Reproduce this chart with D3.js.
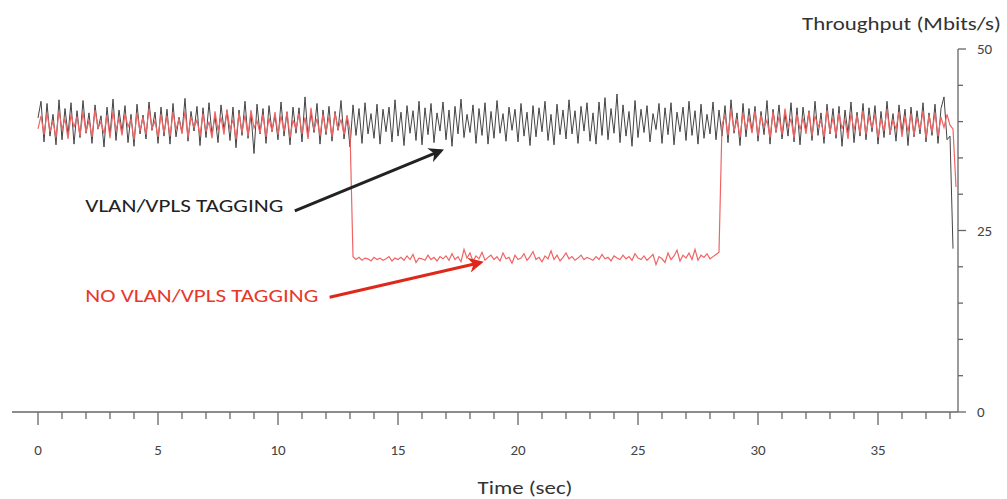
<!DOCTYPE html>
<html>
<head>
<meta charset="utf-8">
<script src="https://cdn.jsdelivr.net/npm/d3@7"></script>
<style>
  body { margin: 0; background: #fff; }
  svg { display: block; font-family: Carlito, "Open Sans", sans-serif; }
</style>
</head>
<body>
<svg id="chart" width="1007" height="499"></svg>
<script>
// sample step of both traces (sec)
const dt = 0.125;

// throughput with VLAN/VPLS tagging (Mbits/s), one value per dt from t = 0
const taggedValues = [
  40.5, 42.8, 37.2, 42.5, 38.0, 41.0, 36.8, 43.0, 37.5, 41.8, 38.2, 42.6, 36.9, 41.5, 37.8, 42.9,
  38.4, 41.2, 37.0, 42.3, 39.0, 40.8, 36.5, 42.0, 38.1, 43.1, 37.4, 41.6, 38.6, 42.2, 37.1, 41.0,
  36.6, 42.4, 38.3, 40.9, 37.6, 42.7, 38.8, 41.3, 37.0, 42.0, 38.0, 41.7, 36.9, 42.5, 37.9, 40.6,
  38.5, 43.2, 37.3, 41.4, 38.7, 42.1, 36.7, 41.9, 37.8, 42.6, 38.2, 40.8, 37.1, 42.3, 38.9, 41.5,
  37.4, 42.0, 36.4, 41.6, 38.1, 42.8, 37.7, 41.1, 35.6, 42.4, 38.3, 41.8, 37.0, 42.2, 38.6, 40.9,
  37.5, 42.7, 38.0, 41.3, 36.8, 42.0, 38.4, 41.9, 37.2, 43.4, 37.9, 41.2, 38.5, 42.5, 36.9, 41.6,
  38.2, 42.1, 37.3, 41.4, 38.8, 42.9, 37.6, 40.7, 36.5, 42.3, 38.1, 41.8, 37.0, 42.6, 38.3, 41.1,
  37.7, 42.4, 36.9, 41.7, 38.6, 42.0, 37.2, 43.0, 38.0, 41.3, 36.7, 42.2, 38.4, 41.5, 37.4, 42.8,
  36.8, 41.9, 38.2, 42.5, 37.1, 41.2, 38.7, 42.7, 37.5, 41.6, 36.6, 42.1, 38.3, 43.1, 37.8, 41.0,
  38.5, 42.3, 37.0, 41.8, 38.1, 42.6, 36.9, 41.4, 37.7, 42.9, 38.4, 41.1, 37.3, 42.0, 38.8, 41.7,
  37.2, 42.5, 38.0, 41.3, 36.7, 42.2, 37.9, 41.9, 38.6, 42.8, 37.4, 41.0, 36.8, 42.4, 38.2, 41.6,
  37.6, 43.0, 38.3, 41.5, 37.0, 42.1, 38.7, 42.6, 37.3, 41.2, 36.9, 42.7, 38.1, 43.3, 37.5, 41.8,
  38.4, 43.8, 37.1, 42.3, 38.0, 41.4, 36.6, 42.9, 37.8, 41.7, 38.5, 42.2, 37.2, 41.1, 38.9, 42.5,
  37.0, 41.9, 38.2, 42.6, 36.8, 41.3, 38.6, 42.0, 37.4, 42.8, 38.1, 41.5, 36.9, 42.4, 37.7, 41.0,
  38.3, 42.7, 37.5, 41.6, 38.0, 42.2, 37.1, 43.0, 38.4, 41.2, 36.7, 42.5, 37.9, 41.8, 38.6, 42.1,
  37.3, 41.4, 38.2, 42.9, 36.9, 41.7, 38.5, 42.3, 37.6, 41.1, 38.0, 42.6, 37.2, 41.9, 36.8, 42.0,
  38.7, 41.5, 37.4, 42.8, 38.1, 41.2, 37.0, 42.4, 38.3, 41.8, 37.7, 42.1, 36.6, 41.6, 38.4, 42.7,
  37.1, 41.3, 38.0, 42.5, 37.5, 41.9, 38.6, 42.2, 36.9, 41.4, 37.8, 42.8, 38.2, 41.1, 37.3, 42.3,
  38.5, 41.7, 36.7, 42.0, 37.9, 41.5, 38.3, 42.6, 37.2, 41.2, 38.1, 42.4, 37.0, 41.8, 43.4, 37.5,
  38.0, 22.5
];

// throughput without tagging (Mbits/s), one value per dt from t = 0
const untaggedValues = [
  39.0, 40.8, 38.2, 41.2, 38.6, 40.1, 37.8, 41.5, 38.9, 40.4, 37.6, 41.0, 39.2, 40.7, 38.0, 41.3,
  38.5, 40.2, 37.9, 41.6, 39.1, 40.0, 38.3, 40.9, 37.7, 41.4, 38.8, 40.5, 38.1, 41.1, 39.3, 40.3,
  37.5, 41.2, 38.7, 40.6, 38.2, 41.8, 39.0, 40.1, 37.9, 41.0, 38.4, 40.8, 38.0, 41.3, 38.9, 40.4,
  38.3, 41.5, 37.8, 40.7, 39.2, 40.2, 38.1, 41.1, 38.6, 40.0, 37.7, 41.4, 38.8, 40.6, 38.2, 41.7,
  38.9, 40.3, 37.6, 41.2, 38.5, 40.9, 38.0, 41.6, 39.1, 40.1, 38.4, 41.0, 37.9, 40.5, 38.7, 41.3,
  38.2, 40.8, 38.6, 41.4, 37.8, 40.2, 39.0, 41.1, 38.3, 40.6, 37.6, 41.9, 38.8, 40.4, 38.1, 41.0,
  38.5, 40.7, 37.9, 41.2, 38.9, 40.3, 38.2, 40.9, 38.8,
  21.4, 21.0, 21.3, 20.9, 21.2, 21.1, 20.8, 21.3, 21.0, 21.2, 20.9, 21.1, 21.4, 20.8, 21.2, 21.0,
  21.3, 20.9, 21.5, 21.0, 21.7, 20.6, 21.2, 21.1, 20.9, 21.6, 21.0, 21.3, 20.8, 21.4, 21.1, 21.5,
  20.9, 21.8, 21.0, 21.4, 20.7, 22.4, 21.2, 21.9, 20.8, 21.5, 21.1, 22.0, 20.9, 21.3, 21.6, 21.0,
  21.4, 20.8, 21.9, 21.1, 21.3, 20.5, 21.6, 21.0, 21.2, 21.8, 20.9, 21.4, 22.1, 21.0, 21.3, 20.7,
  21.5, 21.1, 22.2, 21.0, 21.6, 20.8, 21.3, 21.9, 21.1, 21.4, 20.9, 21.2, 21.6, 21.0, 21.3, 21.1,
  20.9, 21.4, 21.0, 21.7, 21.1, 21.3, 20.8, 21.5, 21.2, 21.0, 21.6, 21.1, 21.4, 20.9, 21.8, 21.2,
  21.0, 21.5, 20.9, 21.3, 21.7, 20.3, 21.4, 21.1, 20.6, 21.9, 21.0, 21.5, 22.3, 20.8, 21.6, 21.2,
  21.9, 21.0, 22.4, 20.9, 21.6, 21.3, 21.8, 21.1, 21.4, 21.7, 22.0,
  39.6, 40.8, 38.1, 41.7, 38.7, 40.3, 37.9, 41.2, 39.0, 40.6, 38.4, 41.5, 38.0, 40.9, 39.2, 40.2,
  37.8, 41.3, 38.6, 40.7, 38.2, 41.8, 39.1, 40.4, 37.7, 41.0, 38.9, 40.5, 38.3, 41.4, 38.0, 40.8,
  39.3, 40.1, 37.9, 41.6, 38.5, 40.6, 38.1, 41.2, 39.0, 40.3, 37.6, 41.1, 38.8, 40.9, 38.4, 41.5,
  38.2, 40.7, 39.1, 41.0, 37.8, 40.4, 38.7, 41.7, 38.3, 40.2, 39.0, 41.3, 37.9, 40.8, 38.6, 41.1,
  38.1, 40.5, 38.9, 41.4, 37.7, 40.9, 38.5, 41.2, 38.0, 40.6, 39.2, 41.0, 39.5, 39.0, 31.0
];

const xTicks = d3.range(0, 39, 1);
const xLabels = [0, 5, 10, 15, 20, 25, 30, 35];
const yTicks = [0, 5, 10, 15, 20, 25, 30, 35, 40, 45, 50];
const yLabels = [0, 25, 50];

// annotations in data units: label anchor, arrow tail, arrow head
const notes = [
  { text: "VLAN/VPLS TAGGING", color: "#222", at: [1.97, 27.5], width: 198, from: [10.7, 27.7], to: [16.8, 36.0] },
  { text: "NO VLAN/VPLS TAGGING", color: "#e8382c", arrow: "#e0281a", at: [1.97, 15.1], width: 233, from: [12.15, 15.8], to: [18.45, 20.6] }
];

const svg = d3.select("#chart");

const x = d3.scaleLinear().domain([0, 38]).range([38, 950]);
const y = d3.scaleLinear().domain([0, 50]).range([412, 49]);
const axisColor = "#666";

// x axis
const gx = svg.append("g").attr("transform", `translate(0,${y(0)})`);
gx.append("line")
  .attr("x1", 12).attr("x2", 958)
  .attr("stroke", axisColor).attr("stroke-width", 1.3);
gx.selectAll(".tick").data(xTicks).join("line")
  .attr("x1", d => x(d)).attr("x2", d => x(d))
  .attr("y1", 0).attr("y2", d => d % 5 === 0 ? 13 : 7)
  .attr("stroke", axisColor).attr("stroke-width", 1.3);
gx.selectAll(".lbl").data(xLabels).join("text")
  .attr("x", d => x(d)).attr("y", 43)
  .attr("text-anchor", "middle")
  .attr("font-size", 15).attr("fill", "#444")
  .text(d => d);
svg.append("text")
  .attr("x", 525).attr("y", 494)
  .attr("text-anchor", "middle")
  .attr("font-size", 19).attr("fill", "#333")
  .attr("textLength", 95).attr("lengthAdjust", "spacingAndGlyphs")
  .text("Time (sec)");

// y axis on the right
const axisX = 958;
const gy = svg.append("g");
gy.append("line")
  .attr("x1", axisX).attr("x2", axisX)
  .attr("y1", y(50)).attr("y2", y(0))
  .attr("stroke", axisColor).attr("stroke-width", 1.3);
gy.selectAll(".tick").data(yTicks).join("line")
  .attr("x1", axisX).attr("x2", d => axisX + (d % 25 === 0 ? 8 : 5))
  .attr("y1", d => y(d)).attr("y2", d => y(d))
  .attr("stroke", axisColor).attr("stroke-width", 1.3);
gy.selectAll(".lbl").data(yLabels).join("text")
  .attr("x", 977).attr("y", d => y(d) + 5)
  .attr("font-size", 15).attr("fill", "#444")
  .text(d => d);
svg.append("text")
  .attr("x", 802).attr("y", 30)
  .attr("font-size", 19).attr("fill", "#333")
  .attr("textLength", 199).attr("lengthAdjust", "spacingAndGlyphs")
  .text("Throughput (Mbits/s)");

// traces
const line = d3.line().x((d, i) => x(i * dt)).y(d => y(d));
svg.append("path").datum(taggedValues)
  .attr("d", line).attr("fill", "none")
  .attr("stroke", "#444").attr("stroke-width", 1);
svg.append("path").datum(untaggedValues)
  .attr("d", line).attr("fill", "none")
  .attr("stroke", "#f06464").attr("stroke-width", 1.2);

// arrow heads
const defs = svg.append("defs");
notes.forEach((n, i) => {
  defs.append("marker")
    .attr("id", "head" + i)
    .attr("viewBox", "0 0 10 10")
    .attr("refX", 8).attr("refY", 5)
    .attr("markerWidth", 5).attr("markerHeight", 5)
    .attr("markerUnits", "strokeWidth")
    .attr("orient", "auto")
    .append("path").attr("d", "M0,0 L10,5 L0,10 L3,5 Z")
    .attr("fill", n.arrow || n.color);
});

const gn = svg.append("g");
notes.forEach((n, i) => {
  gn.append("text")
    .attr("x", x(n.at[0])).attr("y", y(n.at[1]))
    .attr("font-size", 19).attr("fill", n.color)
    .attr("textLength", n.width).attr("lengthAdjust", "spacingAndGlyphs")
    .text(n.text);
  gn.append("line")
    .attr("x1", x(n.from[0])).attr("y1", y(n.from[1]))
    .attr("x2", x(n.to[0])).attr("y2", y(n.to[1]))
    .attr("stroke", n.arrow || n.color).attr("stroke-width", 3)
    .attr("marker-end", `url(#head${i})`);
});
</script>
</body>
</html>
